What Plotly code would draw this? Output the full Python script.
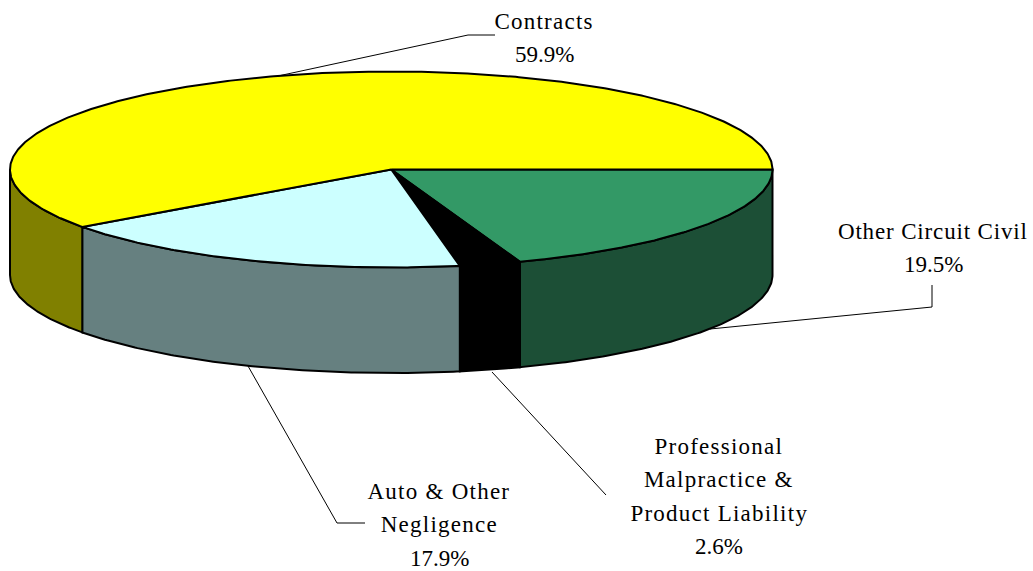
import numpy as np
import plotly.graph_objects as go

categories = ["Other Circuit Civil", "Professional Malpractice & Product Liability",
              "Auto & Other Negligence", "Contracts"]
values = [19.5, 2.6, 17.9, 59.9]
label_lines = [["Other Circuit Civil", "19.5%"],
               ["Professional", "Malpractice &", "Product Liability", "2.6%"],
               ["Auto & Other", "Negligence", "17.9%"],
               ["Contracts", "59.9%"]]
label_pos = [(933, 231), (719, 446), (439, 491), (544, 21)]
top_colors = ["#339966", "#000000", "#CCFFFF", "#FFFF00"]
side_colors = ["#1C4F36", "#000000", "#668080", "#808000"]
leaders = [[(932, 285), (932, 307), (710, 329)],
           [(606, 495), (492, 372)],
           [(365, 523), (337, 523), (248, 366)],
           [(495, 35), (468, 35), (278, 76)]]

CX, CY, RX, RY, DEPTH = 391.25, 169.5, 381.25, 98, 105.5
W, H = 1033, 571
LINE_GAP = 33.5

def rim(a, b, dy=0):
    t = np.linspace(a, b, max(int(abs(b - a) * 2) + 2, 2))
    r = np.radians(t)
    return CX + RX * np.cos(r), CY + RY * np.sin(r) + dy

total = sum(values)
edges = np.concatenate([[0], np.cumsum(values) / total * 360])
LINE = dict(color="#000000", width=2)
fig = go.Figure()

def add(x, y, fill):
    fig.add_trace(go.Scatter(x=list(x), y=list(y), mode="lines", fill="toself",
                             fillcolor=fill, line=LINE, hoverinfo="skip", showlegend=False))

# side walls
for i, (a, b) in enumerate(zip(edges[:-1], edges[1:])):
    lo, hi = max(a, 0), min(b, 180)
    if hi > lo:
        x1, y1 = rim(lo, hi)
        x2, y2 = rim(hi, lo, DEPTH)
        add(np.r_[x1, x2, x1[0]], np.r_[y1, y2, y1[0]], side_colors[i])
# top slices
for i, (a, b) in enumerate(zip(edges[:-1], edges[1:])):
    x, y = rim(a, b)
    add(np.r_[CX, x, CX], np.r_[CY, y, CY], top_colors[i])
# leader lines
for pts in leaders:
    fig.add_trace(go.Scatter(x=[p[0] for p in pts], y=[p[1] for p in pts], mode="lines",
                             line=dict(color="#000000", width=1), hoverinfo="skip", showlegend=False))
# labels
for lines, (x, y) in zip(label_lines, label_pos):
    for k, txt in enumerate(lines):
        fig.add_annotation(x=x, y=y + k * LINE_GAP, text=txt, showarrow=False,
                           xanchor="center", yanchor="middle", align="center",
                           font=dict(family="Liberation Serif", size=23, color="#000000"))

fig.update_layout(width=W, height=H, margin=dict(l=0, r=0, t=0, b=0), autosize=False,
                  paper_bgcolor="#FFFFFF", plot_bgcolor="#FFFFFF",
                  xaxis=dict(range=[0, W], visible=False, fixedrange=True),
                  yaxis=dict(range=[H, 0], visible=False, fixedrange=True))
post = """
document.body.style.margin = '0';
document.body.style.overflow = 'hidden';
setTimeout(function () {
  document.querySelectorAll('.annotation-text').forEach(function (t) {
    var s = t.textContent;
    if (s.indexOf('%') < 0) { t.style.letterSpacing = s.length >= 18 ? '0.85px' : '1.25px'; }
  });
}, 30);
"""
fig.write_html("out.html", config={"displayModeBar": False}, post_script=post)
